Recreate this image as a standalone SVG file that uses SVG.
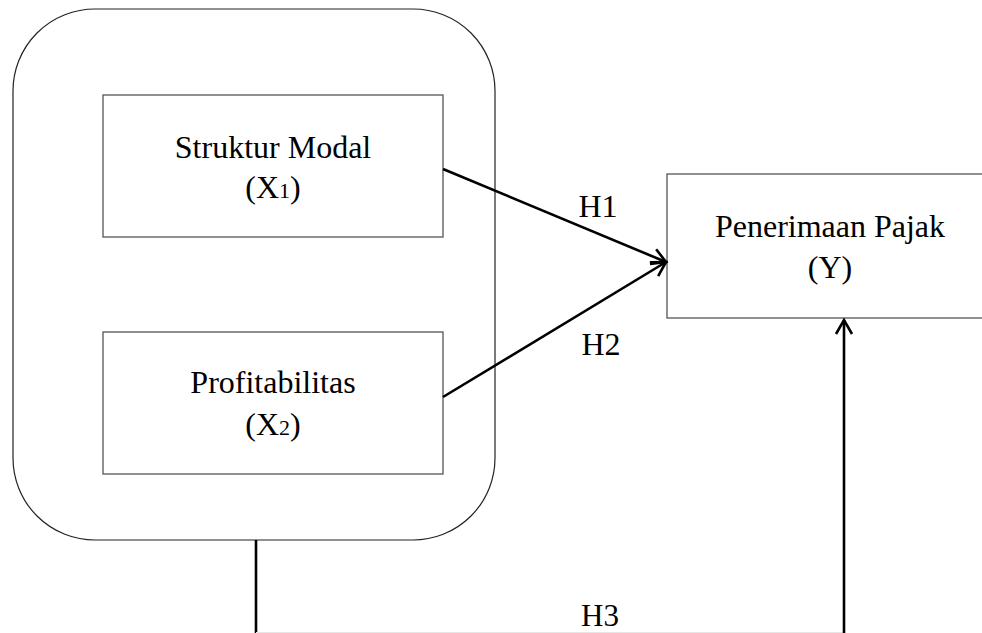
<svg xmlns="http://www.w3.org/2000/svg" width="982" height="633" viewBox="0 0 982 633">
<defs>
<marker id="arr" markerUnits="userSpaceOnUse" markerWidth="30" markerHeight="30" viewBox="-20 -15 30 30" refX="0" refY="0" orient="auto">
<path d="M-14,-8 L0,0 L-14,8" fill="none" stroke="#000" stroke-width="2.6" stroke-linejoin="miter"/>
</marker>
</defs>
<style>
text{font-family:"Liberation Serif","Times New Roman",serif;font-size:32px;fill:#000;text-anchor:middle}
.box{fill:#fff;stroke:#555;stroke-width:1.3}
.group{fill:#fff;stroke:#222;stroke-width:1.2}
.conn{fill:none;stroke:#000;stroke-width:2.6}
.sub{font-size:22px}
</style>
<rect width="982" height="633" fill="#fff"/>
<g id="group-x">
<rect class="group" x="13" y="9" width="482" height="531" rx="82" ry="82"/>
</g>
<g id="node-x1">
<rect class="box" x="103" y="95" width="340" height="142"/>
<text x="273" y="158">Struktur Modal</text>
<text x="273" y="198">(X<tspan class="sub">1</tspan>)</text>
</g>
<g id="node-x2">
<rect class="box" x="103" y="332" width="340" height="142"/>
<text x="273" y="393">Profitabilitas</text>
<text x="273" y="435">(X<tspan class="sub">2</tspan>)</text>
</g>
<g id="node-y">
<rect class="box" x="667" y="174" width="330" height="144"/>
<text x="830" y="237">Penerimaan Pajak</text>
<text x="830" y="278">(Y)</text>
</g>
<g id="connectors">
<line class="conn" x1="443" y1="169" x2="666" y2="262" marker-end="url(#arr)"/>
<line class="conn" x1="443" y1="397" x2="666" y2="262" marker-end="url(#arr)"/>
<line class="conn" x1="256" y1="540" x2="256" y2="633"/>
<line x1="256" y1="632.5" x2="844" y2="632.5" stroke="#e6e6e6" stroke-width="1"/>
<line class="conn" x1="844" y1="633" x2="844" y2="320" marker-end="url(#arr)"/>
<text x="598" y="217">H1</text>
<text x="601" y="355">H2</text>
<text x="600" y="626" style="font-size:31px">H3</text>
</g>
</svg>
